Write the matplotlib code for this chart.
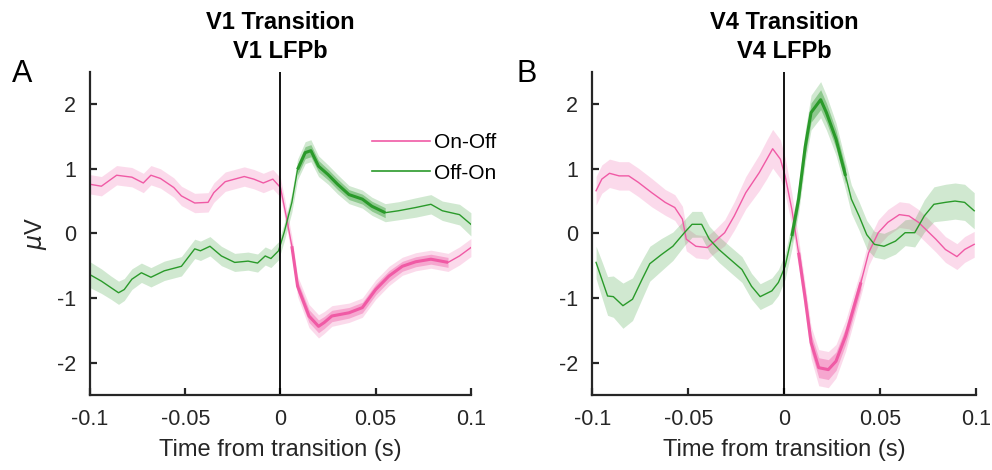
import numpy as np
import matplotlib.pyplot as plt

plt.rcParams['font.family'] = ['Liberation Sans', 'DejaVu Sans']
plt.rcParams['axes.unicode_minus'] = False

# ---- data ----
# Panel A (V1)
v1_onoff_t = [-0.100, -0.094, -0.086, -0.078, -0.072, -0.068, -0.063, -0.056, -0.052, -0.045,
              -0.038, -0.035, -0.029, -0.019, -0.014, -0.009, -0.004, 0.000, 0.003, 0.006,
              0.009, 0.015, 0.020, 0.023, 0.027, 0.036, 0.043, 0.050, 0.057, 0.064,
              0.071, 0.079, 0.088, 0.094, 0.100]
v1_onoff = [0.76, 0.73, 0.90, 0.87, 0.78, 0.90, 0.85, 0.71, 0.58, 0.47,
            0.48, 0.63, 0.80, 0.88, 0.84, 0.78, 0.84, 0.71, 0.27, -0.20,
            -0.82, -1.28, -1.44, -1.38, -1.28, -1.23, -1.15, -0.87, -0.66, -0.51,
            -0.44, -0.40, -0.45, -0.35, -0.22]
v1_onoff_ci = [0.15] * 20 + [0.16, 0.18, 0.18, 0.17, 0.16, 0.15, 0.15, 0.15, 0.15, 0.14,
                            0.14, 0.14, 0.14, 0.14, 0.14]

v1_offon_t = [-0.100, -0.094, -0.089, -0.085, -0.082, -0.078, -0.073, -0.068, -0.061, -0.052,
              -0.045, -0.042, -0.037, -0.031, -0.024, -0.017, -0.012, -0.008, -0.005, -0.001,
              0.002, 0.006, 0.009, 0.013, 0.016, 0.020, 0.025, 0.030, 0.036, 0.043,
              0.048, 0.055, 0.062, 0.071, 0.079, 0.085, 0.094, 0.100]
v1_offon = [-0.64, -0.74, -0.84, -0.92, -0.87, -0.71, -0.61, -0.68, -0.58, -0.51,
            -0.24, -0.27, -0.20, -0.35, -0.45, -0.43, -0.46, -0.35, -0.39, -0.27,
            0.02, 0.48, 0.99, 1.25, 1.28, 1.04, 0.91, 0.76, 0.60, 0.53,
            0.42, 0.32, 0.35, 0.40, 0.45, 0.35, 0.29, 0.14]
v1_offon_ci = [0.2, 0.19, 0.18, 0.18, 0.17, 0.16, 0.15, 0.15, 0.15, 0.15,
               0.15, 0.15, 0.15, 0.15, 0.14, 0.14, 0.14, 0.14, 0.14, 0.14,
               0.14, 0.15, 0.16, 0.17, 0.17, 0.16, 0.15, 0.15, 0.14, 0.14,
               0.14, 0.14, 0.14, 0.15, 0.15, 0.15, 0.16, 0.18]

# Panel B (V4)
v4_onoff_t = [-0.098, -0.095, -0.091, -0.086, -0.081, -0.076, -0.069, -0.062, -0.057, -0.053,
              -0.051, -0.046, -0.040, -0.036, -0.031, -0.026, -0.020, -0.013, -0.009, -0.006,
              -0.002, 0.0005, 0.004, 0.0075, 0.011, 0.014, 0.018, 0.023, 0.027, 0.032,
              0.037, 0.040, 0.044, 0.049, 0.054, 0.060, 0.065, 0.070, 0.079, 0.084,
              0.090, 0.094, 0.099]
v4_onoff = [0.66, 0.84, 0.93, 0.89, 0.89, 0.79, 0.63, 0.48, 0.40, 0.22,
            -0.09, -0.20, -0.22, -0.12, 0.01, 0.27, 0.63, 0.94, 1.15, 1.31,
            1.15, 0.89, 0.37, -0.30, -1.02, -1.69, -2.08, -2.11, -1.98, -1.59,
            -1.07, -0.76, -0.30, 0.01, 0.17, 0.29, 0.27, 0.17, -0.09, -0.25,
            -0.36, -0.25, -0.17]
v4_onoff_ci = [0.22, 0.22, 0.22, 0.22, 0.22, 0.22, 0.22, 0.2, 0.2, 0.2,
               0.18, 0.18, 0.18, 0.18, 0.2, 0.22, 0.25, 0.28, 0.3, 0.3,
               0.3, 0.28, 0.25, 0.22, 0.22, 0.25, 0.28, 0.28, 0.26, 0.24,
               0.22, 0.2, 0.2, 0.2, 0.2, 0.2, 0.2, 0.2, 0.2, 0.2,
               0.2, 0.2, 0.2]

v4_offon_t = [-0.098, -0.095, -0.092, -0.089, -0.084, -0.079, -0.074, -0.070, -0.064, -0.058,
              -0.052, -0.048, -0.043, -0.039, -0.034, -0.029, -0.022, -0.017, -0.0125, -0.0064,
              -0.003, 0.0005, 0.004, 0.0075, 0.011, 0.014, 0.019, 0.022, 0.027, 0.032,
              0.035, 0.039, 0.043, 0.047, 0.052, 0.058, 0.063, 0.068, 0.073, 0.078,
              0.084, 0.089, 0.094, 0.099]
v4_offon = [-0.45, -0.71, -0.97, -0.98, -1.12, -1.02, -0.71, -0.47, -0.33, -0.20,
            0.01, 0.14, 0.14, -0.09, -0.25, -0.38, -0.56, -0.82, -0.98, -0.89,
            -0.76, -0.51, -0.04, 0.53, 1.35, 1.87, 2.07, 1.87, 1.46, 0.89,
            0.53, 0.27, -0.02, -0.17, -0.20, -0.12, 0.01, 0.01, 0.27, 0.45,
            0.48, 0.50, 0.48, 0.35]
v4_offon_ci = [0.25, 0.28, 0.3, 0.32, 0.35, 0.33, 0.3, 0.27, 0.25, 0.22,
               0.2, 0.2, 0.2, 0.2, 0.2, 0.2, 0.2, 0.2, 0.2, 0.2,
               0.2, 0.2, 0.2, 0.22, 0.25, 0.27, 0.28, 0.27, 0.25, 0.22,
               0.22, 0.22, 0.22, 0.2, 0.2, 0.2, 0.2, 0.22, 0.25, 0.27,
               0.28, 0.28, 0.28, 0.28]

# significant windows (thick segments)
v1_onoff_sig = (0.004, 0.092)
v1_offon_sig = (0.007, 0.059)
v4_onoff_sig = (0.005, 0.040)
v4_offon_sig = (0.004, 0.034)

pink = '#f05aa5'
green = '#2a9a2a'
ink = '#262626'

fig = plt.figure(figsize=(9.92, 4.7), dpi=100)
axA = fig.add_axes([0.0907, 0.160, 0.384, 0.687])
axB = fig.add_axes([0.597, 0.160, 0.387, 0.687])


def draw(ax, t, y, ci, sig, color, label):
    t = np.array(t); y = np.array(y); ci = np.array(ci)
    ax.fill_between(t, y - ci, y + ci, color=color, alpha=0.22, lw=0)
    ax.plot(t, y, color=color, lw=1.0, label=label)
    m = (t >= sig[0]) & (t <= sig[1])
    ax.fill_between(t[m], y[m] - ci[m] * 0.55, y[m] + ci[m] * 0.55, color=color, alpha=0.4, lw=0)
    ax.plot(t[m], y[m], color=color, lw=2.2, solid_capstyle='butt')


draw(axA, v1_onoff_t, v1_onoff, v1_onoff_ci, v1_onoff_sig, pink, 'On-Off')
draw(axA, v1_offon_t, v1_offon, v1_offon_ci, v1_offon_sig, green, 'Off-On')
draw(axB, v4_onoff_t, v4_onoff, v4_onoff_ci, v4_onoff_sig, pink, 'On-Off')
draw(axB, v4_offon_t, v4_offon, v4_offon_ci, v4_offon_sig, green, 'Off-On')

titles = ['V1 Transition\nV1 LFPb', 'V4 Transition\nV4 LFPb']
for ax, title in zip([axA, axB], titles):
    ax.axvline(0, color='black', lw=1.3)
    ax.set_xlim(-0.1, 0.1)
    ax.set_ylim(-2.5, 2.5)
    ax.set_xticks([-0.1, -0.05, 0, 0.05, 0.1])
    ax.set_xticklabels(['-0.1', '-0.05', '0', '0.05', '0.1'])
    ax.set_yticks([-2, -1, 0, 1, 2])
    ax.spines['top'].set_visible(False)
    ax.spines['right'].set_visible(False)
    for s in ['left', 'bottom']:
        ax.spines[s].set_linewidth(1.6)
        ax.spines[s].set_color(ink)
    ax.tick_params(direction='in', length=5, width=1.6, color=ink,
                   labelsize=15.5, labelcolor=ink, pad=10)
    ax.set_xlabel('Time from transition (s)', fontsize=17, color=ink, labelpad=7)
    ax.set_title(title, fontsize=17, fontweight='bold', linespacing=1.35, pad=10)

axA.set_ylabel(r'$\mu$V', fontsize=17, color=ink, labelpad=6)
leg = axA.legend(loc='upper left', bbox_to_anchor=(0.74, 0.81), frameon=False,
                 fontsize=15, handlelength=2.8, handletextpad=0.2, labelspacing=0.55,
                 borderpad=0, borderaxespad=0)
for line in leg.get_lines():
    line.set_linewidth(1.2)

fig.text(0.012, 0.825, 'A', fontsize=22, color='black')
fig.text(0.521, 0.825, 'B', fontsize=22, color='black')

fig.savefig('out.png', dpi=100)
